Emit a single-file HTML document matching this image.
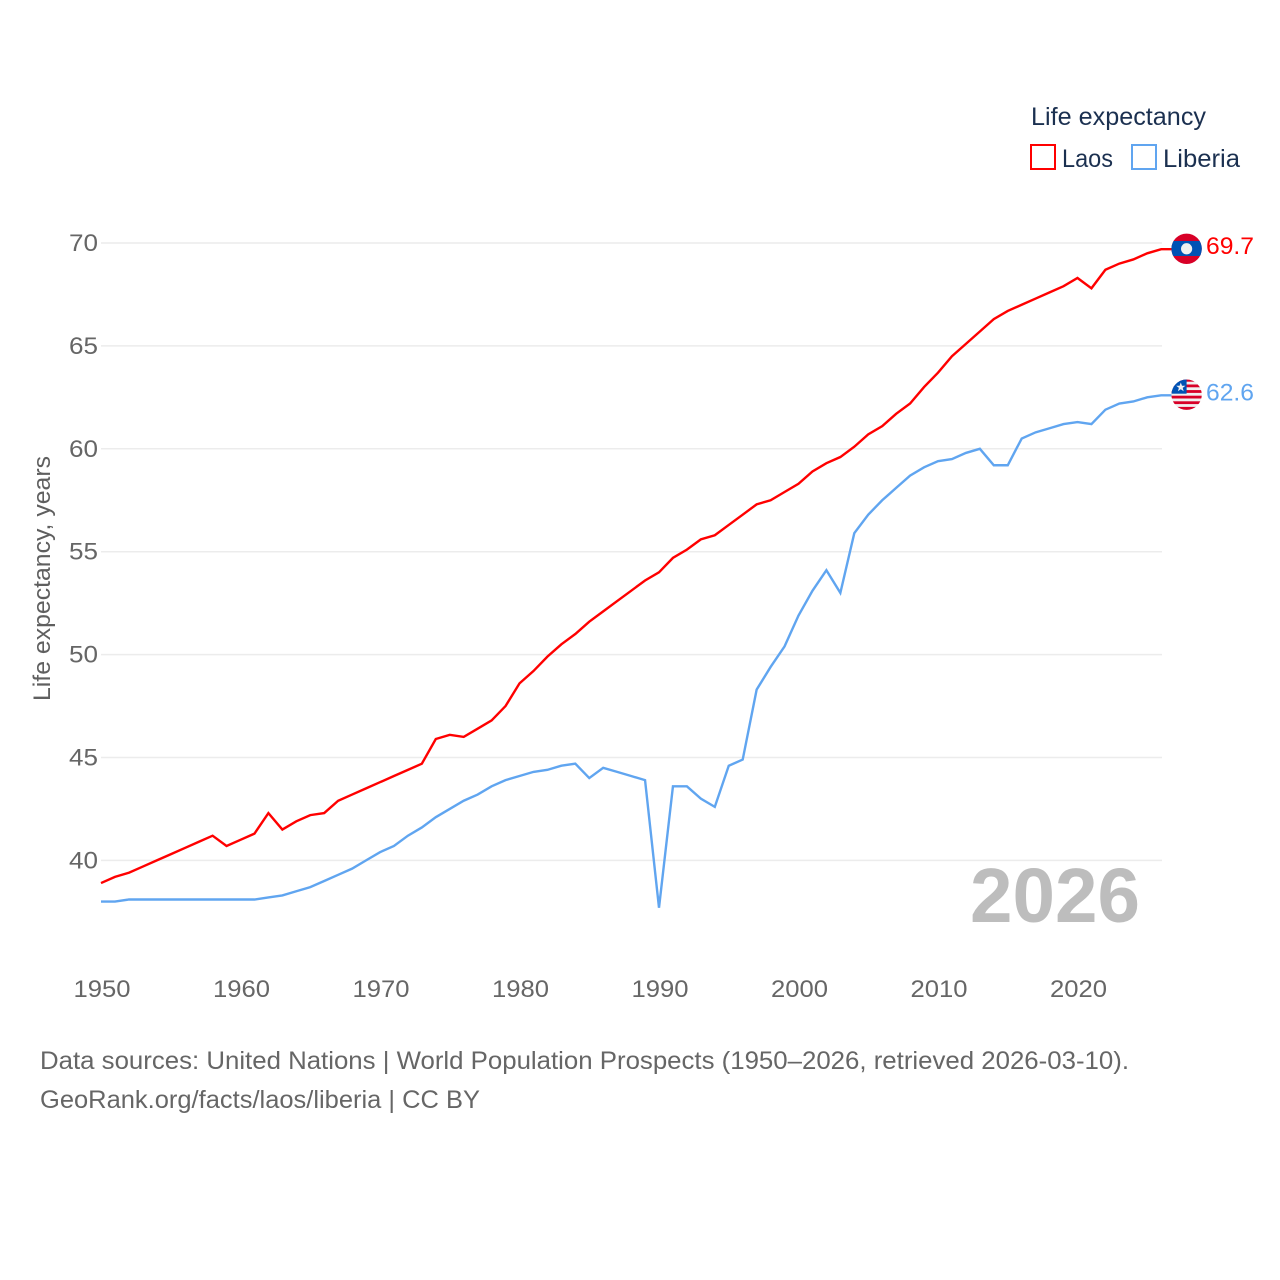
<!DOCTYPE html>
<html lang="en">
<head>
<meta charset="utf-8">
<title>Life expectancy: Laos and Liberia</title>
<style>
  html, body { margin: 0; padding: 0; background: #fff; }
  svg { display: block; font-family: "Liberation Sans", sans-serif; }
</style>
</head>
<body>
<svg id="chart" xmlns="http://www.w3.org/2000/svg" width="1280" height="1280" viewBox="0 0 1280 1280">
  <defs>
    <clipPath id="flag-clip"><circle cx="0" cy="0" r="15.2"></circle></clipPath>
  </defs>
  <rect x="0" y="0" width="1280" height="1280" fill="#ffffff"></rect>
  <g id="grid"></g>
  <g id="y-ticks"></g>
  <g id="x-ticks"></g>
  <text transform="translate(50,701) rotate(-90)" font-size="24" fill="#5f5f5f" textLength="245" lengthAdjust="spacingAndGlyphs">Life expectancy, years</text>

  <text x="970" y="922" font-size="77" font-weight="bold" fill="#bdbdbd" textLength="170" lengthAdjust="spacingAndGlyphs">2026</text>

  <g id="series"></g>

  <g id="flag-laos">
    <g clip-path="url(#flag-clip)">
      <rect x="-16" y="-16" width="32" height="32" fill="#d80027"></rect>
      <rect x="-16" y="-7.8" width="32" height="15" fill="#0052b4"></rect>
      <circle cx="0" cy="0" r="5.6" fill="#f0f0f0"></circle>
    </g>
  </g>
  <g id="flag-liberia">
    <g clip-path="url(#flag-clip)">
      <rect x="-16" y="-16" width="32" height="32" fill="#f0f0f0"></rect>
      <rect x="-16" y="-15.8" width="32" height="2.8" fill="#d80027"></rect>
      <rect x="-16" y="-10.2" width="32" height="2.8" fill="#d80027"></rect>
      <rect x="-16" y="-4.6" width="32" height="2.8" fill="#d80027"></rect>
      <rect x="-16" y="1" width="32" height="2.8" fill="#d80027"></rect>
      <rect x="-16" y="6.6" width="32" height="2.8" fill="#d80027"></rect>
      <rect x="-16" y="12.2" width="32" height="4" fill="#d80027"></rect>
      <rect x="-16" y="-16" width="16" height="15" fill="#0052b4"></rect>
      <polygon points="-5.8,-12.2 -4.6,-8.9 -1.2,-8.9 -3.9,-6.8 -2.9,-3.5 -5.8,-5.5 -8.7,-3.5 -7.7,-6.8 -10.4,-8.9 -7,-8.9" fill="#f0f0f0"></polygon>
    </g>
  </g>

  <text id="value-laos" x="1206" font-size="24" fill="#ff0000" textLength="48" lengthAdjust="spacingAndGlyphs"></text>
  <text id="value-liberia" x="1206" font-size="24" fill="#60a5f0" textLength="48" lengthAdjust="spacingAndGlyphs"></text>

  <g>
    <text x="1031" y="125" font-size="25" fill="#1b3050" textLength="175" lengthAdjust="spacingAndGlyphs">Life expectancy</text>
    <g>
      <rect x="1031" y="145" width="24" height="24" fill="none" stroke="#ff0000" stroke-width="2"></rect>
      <text x="1062" y="167" font-size="25" fill="#1b3050" textLength="51" lengthAdjust="spacingAndGlyphs">Laos</text>
    </g>
    <g>
      <rect x="1132" y="145" width="24" height="24" fill="none" stroke="#60a5f0" stroke-width="2"></rect>
      <text x="1163" y="167" font-size="25" fill="#1b3050" textLength="77" lengthAdjust="spacingAndGlyphs">Liberia</text>
    </g>
  </g>

  <text x="40" y="1069" font-size="25" fill="#666666" textLength="1089" lengthAdjust="spacingAndGlyphs">Data sources: United Nations | World Population Prospects (1950–2026, retrieved 2026-03-10).</text>
  <text x="40" y="1108" font-size="25" fill="#666666" textLength="440" lengthAdjust="spacingAndGlyphs">GeoRank.org/facts/laos/liberia | CC BY</text>
</svg>

<script>
const startYear = 1950;
const xTickYears = [1950, 1960, 1970, 1980, 1990, 2000, 2010, 2020];
const yTickValues = [40, 45, 50, 55, 60, 65, 70];
const laosValues = [38.9, 39.2, 39.4, 39.7, 40.0, 40.3, 40.6, 40.9, 41.2, 40.7, 41.0, 41.3, 42.3, 41.5, 41.9, 42.2, 42.3, 42.9, 43.2, 43.5, 43.8, 44.1, 44.4, 44.7, 45.9, 46.1, 46.0, 46.4, 46.8, 47.5, 48.6, 49.2, 49.9, 50.5, 51.0, 51.6, 52.1, 52.6, 53.1, 53.6, 54.0, 54.7, 55.1, 55.6, 55.8, 56.3, 56.8, 57.3, 57.5, 57.9, 58.3, 58.9, 59.3, 59.6, 60.1, 60.7, 61.1, 61.7, 62.2, 63.0, 63.7, 64.5, 65.1, 65.7, 66.3, 66.7, 67.0, 67.3, 67.6, 67.9, 68.3, 67.8, 68.7, 69.0, 69.2, 69.5, 69.7];
const liberiaValues = [38.0, 38.0, 38.1, 38.1, 38.1, 38.1, 38.1, 38.1, 38.1, 38.1, 38.1, 38.1, 38.2, 38.3, 38.5, 38.7, 39.0, 39.3, 39.6, 40.0, 40.4, 40.7, 41.2, 41.6, 42.1, 42.5, 42.9, 43.2, 43.6, 43.9, 44.1, 44.3, 44.4, 44.6, 44.7, 44.0, 44.5, 44.3, 44.1, 43.9, 37.7, 43.6, 43.6, 43.0, 42.6, 44.6, 44.9, 48.3, 49.4, 50.4, 51.9, 53.1, 54.1, 53.0, 55.9, 56.8, 57.5, 58.1, 58.7, 59.1, 59.4, 59.5, 59.8, 60.0, 59.2, 59.2, 60.5, 60.8, 61.0, 61.2, 61.3, 61.2, 61.9, 62.2, 62.3, 62.5, 62.6];

const NS = 'http://www.w3.org/2000/svg';
const plotLeft = 101;
const plotRight = 1162;
const labelLineEnd = 1172;
const pxPerYear = 13.95;
const y70 = 243;
const pxPerUnit = 20.58;

function xScale(year) {
  return plotLeft + (year - 1950) * pxPerYear;
}
function yScale(value) {
  return y70 + (70 - value) * pxPerUnit;
}
function seriesPoints(values) {
  const pts = values.map(function (v, i) {
    return xScale(startYear + i).toFixed(2) + ',' + yScale(v).toFixed(2);
  });
  pts.push(labelLineEnd + ',' + yScale(values[values.length - 1]).toFixed(2));
  return pts.join(' ');
}

const gridGroup = document.getElementById('grid');
const yTickGroup = document.getElementById('y-ticks');
const xTickGroup = document.getElementById('x-ticks');
const seriesGroup = document.getElementById('series');

yTickValues.forEach(function (value) {
  const gridLine = document.createElementNS(NS, 'line');
  
  
  gridLine.setAttribute('x1', plotLeft);
  gridLine.setAttribute('x2', plotRight);
  gridLine.setAttribute('y1', yScale(value));
  gridLine.setAttribute('y2', yScale(value));
  gridLine.setAttribute('stroke', '#ececec');
  gridLine.setAttribute('stroke-width', '1.5');
  gridGroup.appendChild(gridLine);

  const tick = document.createElementNS(NS, 'text');
  
  
  tick.setAttribute('x', 69);
  tick.setAttribute('y', yScale(value) + 8);
  tick.setAttribute('font-size', '24');
  tick.setAttribute('fill', '#666666');
  tick.setAttribute('textLength', '29');
  tick.setAttribute('lengthAdjust', 'spacingAndGlyphs');
  tick.textContent = String(value);
  yTickGroup.appendChild(tick);
});

xTickYears.forEach(function (year) {
  const tick = document.createElementNS(NS, 'text');
  
  
  tick.setAttribute('x', xScale(year) - 27.5);
  tick.setAttribute('y', 997);
  tick.setAttribute('font-size', '24');
  tick.setAttribute('fill', '#666666');
  tick.setAttribute('textLength', '57');
  tick.setAttribute('lengthAdjust', 'spacingAndGlyphs');
  tick.textContent = String(year);
  xTickGroup.appendChild(tick);
});

const laosLine = document.createElementNS(NS, 'polyline');


laosLine.setAttribute('points', seriesPoints(laosValues));
laosLine.setAttribute('fill', 'none');
laosLine.setAttribute('stroke', '#ff0000');
laosLine.setAttribute('stroke-width', '2.4');
laosLine.setAttribute('stroke-linejoin', 'miter');
seriesGroup.appendChild(laosLine);

const liberiaLine = document.createElementNS(NS, 'polyline');


liberiaLine.setAttribute('points', seriesPoints(liberiaValues));
liberiaLine.setAttribute('fill', 'none');
liberiaLine.setAttribute('stroke', '#60a5f0');
liberiaLine.setAttribute('stroke-width', '2.4');
liberiaLine.setAttribute('stroke-linejoin', 'miter');
seriesGroup.appendChild(liberiaLine);

const laosLast = laosValues[laosValues.length - 1];
const liberiaLast = liberiaValues[liberiaValues.length - 1];
document.getElementById('flag-laos').setAttribute('transform', 'translate(1186.6,' + (yScale(laosLast) - 0.4) + ')');
document.getElementById('flag-liberia').setAttribute('transform', 'translate(1186.6,' + (yScale(liberiaLast) - 0.6) + ')');
const laosLabel = document.getElementById('value-laos');
laosLabel.setAttribute('y', yScale(laosLast) + 5);
laosLabel.textContent = laosLast.toFixed(1);
const liberiaLabel = document.getElementById('value-liberia');
liberiaLabel.setAttribute('y', yScale(liberiaLast) + 5);
liberiaLabel.textContent = liberiaLast.toFixed(1);
</script>
</body>
</html>
